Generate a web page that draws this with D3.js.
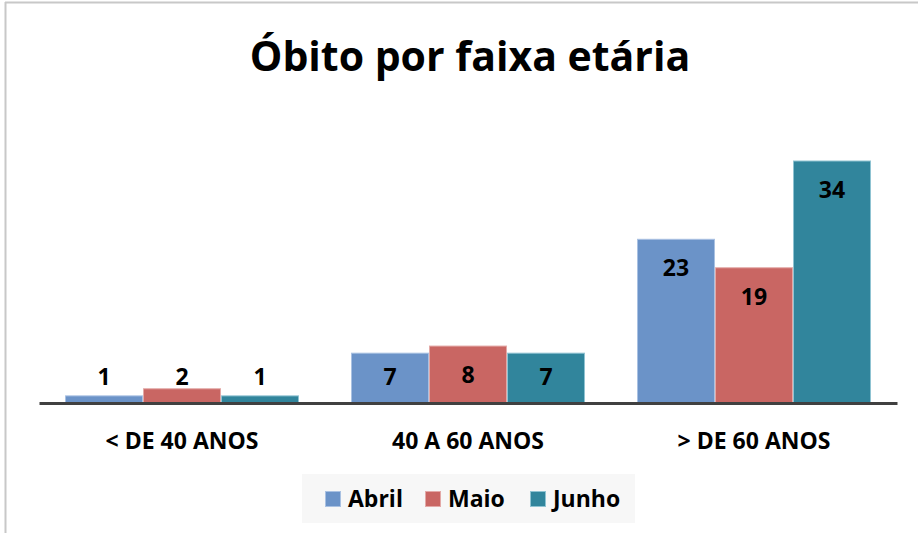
<!DOCTYPE html>
<html><head><meta charset="utf-8">
<script src="https://cdn.jsdelivr.net/npm/d3@7"></script>
<style>body{margin:0;background:#fff;}svg{display:block;}text{font-family:"Open Sans",Lato,sans-serif;font-weight:bold;fill:#000;}</style>
</head><body>
<script>
const categories = ["< DE 40 ANOS", "40 A 60 ANOS", "> DE 60 ANOS"];
const seriesNames = ["Abril", "Maio", "Junho"];
const abril = [1, 7, 23];
const maio = [2, 8, 19];
const junho = [1, 7, 34];
const colors = ["#6b93c8", "#c96663", "#31859c"];
const strokes = ["#a9c1e2", "#e3a9a7", "#8fc3d2"];
const title = "Óbito por faixa etária";

const W = 918, H = 533;
const svg = d3.select("body").append("svg").attr("width", W).attr("height", H);

// frame
svg.append("line").attr("x1", 5).attr("x2", W).attr("y1", 2.5).attr("y2", 2.5).attr("stroke", "#c8c8c8").attr("stroke-width", 2);
svg.append("line").attr("x1", 5.5).attr("x2", 5.5).attr("y1", 2).attr("y2", H).attr("stroke", "#c8c8c8").attr("stroke-width", 2);

svg.append("text").attr("x", 470).attr("y", 71).attr("text-anchor", "middle")
  .style("font-size", "41px").text(title);

const x0 = d3.scaleBand().domain(categories).range([39, 897]).paddingInner(0).paddingOuter(0);
const x1 = d3.scaleBand().domain(seriesNames).range([26, x0.bandwidth() - 26]).padding(0);
const y = d3.scaleLinear().domain([0, 34]).range([403, 161]);

const series = [abril, maio, junho];
const data = [];
categories.forEach((c, i) => seriesNames.forEach((s, j) => data.push({c, s, j, v: series[j][i]})));

const g = svg.append("g");
g.selectAll("rect").data(data).join("rect")
  .attr("x", d => x0(d.c) + x1(d.s) + 0.5)
  .attr("y", d => y(d.v))
  .attr("width", x1.bandwidth() - 1)
  .attr("height", d => y(0) - y(d.v))
  .attr("fill", d => colors[d.j])
  .attr("stroke", d => strokes[d.j]).attr("stroke-width", 1);

g.selectAll("text.val").data(data).join("text").attr("class", "val")
  .attr("x", d => x0(d.c) + x1(d.s) + x1.bandwidth() / 2)
  .attr("y", d => Math.min(y(d.v) + 37, y(0) - 18))
  .attr("text-anchor", "middle").style("font-size", "23px").text(d => d.v);

// axis
const axis = d3.axisBottom(x0).tickSize(0).tickPadding(0);
const ax = svg.append("g").attr("transform", `translate(0,${y(0)})`).call(axis);
ax.select(".domain").attr("stroke", "#404040").attr("stroke-width", 3);
ax.selectAll(".tick text").attr("y", 46).attr("dy", 0).style("font-size", "23px")
  .style("font-family", "'Open Sans', Lato, sans-serif").attr("fill", "#000");

// legend
const lg = svg.append("g");
lg.append("rect").attr("x", 302).attr("y", 474).attr("width", 333).attr("height", 49).attr("fill", "#f7f7f7");
const lx = [325, 425, 530];
seriesNames.forEach((s, j) => {
  lg.append("rect").attr("x", lx[j] + 0.5).attr("y", 491.5).attr("width", 15).attr("height", 15)
    .attr("fill", colors[j]).attr("stroke", strokes[j]);
  lg.append("text").attr("x", lx[j] + 23).attr("y", 507).style("font-size", "23px").text(s);
});
</script>
</body></html>
